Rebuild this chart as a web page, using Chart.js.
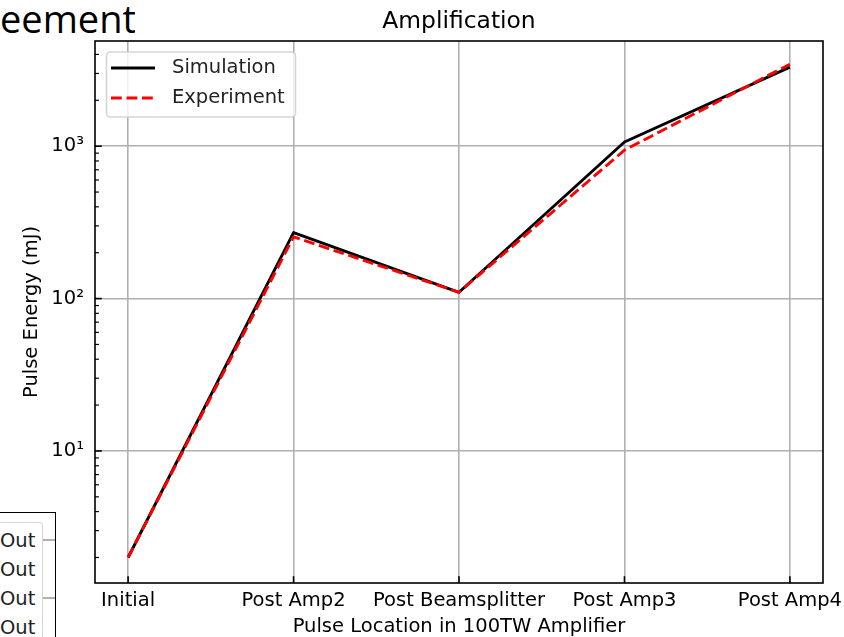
<!DOCTYPE html>
<html>
<head>
<meta charset="utf-8">
<script src="https://cdn.jsdelivr.net/npm/chart.js@4.4.1/dist/chart.umd.min.js"></script>
<style>
  html, body { margin: 0; padding: 0; background: #fff; }
  #wrap { position: relative; width: 844px; height: 637px; overflow: hidden; }
  #wrap canvas { position: absolute; left: 0; top: 0; }
  /* neighbouring panel pieces on the left edge */
  .nb-title { position: absolute; left: 0; top: -1px; width: 135px; text-align: right;
              font: 38px/38px "Open Sans"; color: #000; white-space: nowrap; overflow: hidden; }
  .nb-spine { position: absolute; left: -10px; top: 512px; width: 66px; height: 140px; box-sizing: border-box;
              border-top: 1.6px solid #000; border-right: 1.6px solid #000; }
  .nb-grid { position: absolute; left: 43px; width: 12px; height: 1.6px; background: #b0b0b0; }
  .nb-legend { position: absolute; left: -10px; top: 522px; width: 53px; height: 130px; box-sizing: border-box;
               border: 1.6px solid rgba(204,204,204,0.8); border-radius: 4px; background: rgba(255,255,255,0.8); }
  .nb-text { position: absolute; left: 0; top: 525.5px; width: 35px; text-align: right;
             font: 19.5px/29px "DejaVu Sans"; color: #222; white-space: pre; }
</style>
</head>
<body>
<div id="wrap">
  <div class="nb-title">eement</div>
  <div class="nb-spine"></div>
  <div class="nb-grid" style="top:539.2px"></div>
  <div class="nb-grid" style="top:597.2px"></div>
  <div class="nb-legend"></div>
  <div class="nb-text">Out
Out
Out
Out</div>
  <canvas id="myChart" width="844" height="637"></canvas>
</div>
<script>
const chartTitle = 'Amplification';
const categories = ['Initial', 'Post Amp2', 'Post Beamsplitter', 'Post Amp3', 'Post Amp4'];
const simulation = [2, 271, 110, 1065, 3300];
const experiment = [2, 254, 110, 942, 3450];
const yTickValues = [10, 100, 1000];
const yTickLabels = ['10¹', '10²', '10³'];

Chart.defaults.font.family = 'DejaVu Sans';
Chart.defaults.color = '#000';

const GRID = '#b0b0b0';

// title centred over the plot area, not the whole canvas
const plotTitle = {
  id: 'plotTitle',
  afterDraw(chart) {
    const { ctx, chartArea: a } = chart;
    ctx.save();
    ctx.font = '23.4px "DejaVu Sans"';
    ctx.fillStyle = '#000';
    ctx.textAlign = 'center';
    ctx.textBaseline = 'alphabetic';
    ctx.fillText(chartTitle, (a.left + a.right) / 2, 27.5);
    ctx.restore();
  }
};

// frame + inward tick marks
const axesFrame = {
  id: 'axesFrame',
  afterDraw(chart) {
    const { ctx, chartArea: a, scales } = chart;
    ctx.save();
    ctx.strokeStyle = '#000';
    ctx.lineCap = 'butt';
    scales.y.ticks.forEach(t => {
      const py = scales.y.getPixelForValue(t.value);
      const major = yTickValues.includes(t.value);
      ctx.lineWidth = major ? 1.6 : 1.2;
      ctx.beginPath();
      ctx.moveTo(a.left, py);
      ctx.lineTo(a.left + (major ? 6.8 : 3.9), py);
      ctx.stroke();
    });
    ctx.lineWidth = 1.6;
    scales.x.ticks.forEach(t => {
      const px = scales.x.getPixelForValue(t.value);
      ctx.beginPath();
      ctx.moveTo(px, a.bottom);
      ctx.lineTo(px, a.bottom - 6.8);
      ctx.stroke();
    });
    ctx.strokeRect(a.left, a.top, a.right - a.left, a.bottom - a.top);
    ctx.restore();
  }
};

// legend box in the upper-left corner of the plot
const boxLegend = {
  id: 'boxLegend',
  afterDraw(chart) {
    const { ctx, chartArea: a } = chart;
    const x = a.left + 11.5, y = a.top + 11, w = 189, h = 65;
    ctx.save();
    ctx.beginPath();
    ctx.roundRect(x, y, w, h, 4);
    ctx.fillStyle = 'rgba(255,255,255,0.8)';
    ctx.fill();
    ctx.lineWidth = 1.6;
    ctx.strokeStyle = 'rgba(204,204,204,0.8)';
    ctx.stroke();
    ctx.font = '19.5px "DejaVu Sans"';
    ctx.textBaseline = 'middle';
    chart.data.datasets.forEach((ds, i) => {
      const ly = y + 16 + i * 30;
      ctx.beginPath();
      ctx.strokeStyle = ds.borderColor;
      ctx.lineWidth = ds.borderWidth;
      ctx.setLineDash(ds.borderDash || []);
      ctx.moveTo(a.left + 16, ly);
      ctx.lineTo(a.left + 60, ly);
      ctx.stroke();
      ctx.setLineDash([]);
      ctx.fillStyle = '#222';
      ctx.fillText(ds.label, a.left + 77, ly);
    });
    ctx.restore();
  }
};

const toPoints = arr => arr.map((v, i) => ({ x: i, y: v }));

new Chart(document.getElementById('myChart'), {
  type: 'line',
  data: {
    datasets: [
      {
        label: 'Simulation',
        data: toPoints(simulation),
        borderColor: '#000000',
        borderWidth: 2.9,
        pointRadius: 0,
        tension: 0,
        borderJoinStyle: 'round',
        order: 1
      },
      {
        label: 'Experiment',
        data: toPoints(experiment),
        borderColor: '#ff0000',
        borderWidth: 2.9,
        borderDash: [10.8, 4.7],
        pointRadius: 0,
        tension: 0,
        borderJoinStyle: 'round',
        order: 0
      }
    ]
  },
  options: {
    responsive: false,
    animation: false,
    devicePixelRatio: 1,
    layout: { padding: { left: 0, right: 21, top: 41, bottom: 0 } },
    plugins: {
      legend: { display: false },
      title: { display: false },
      tooltip: { enabled: false }
    },
    scales: {
      x: {
        type: 'linear',
        min: -0.2,
        max: 4.2,
        afterBuildTicks: s => { s.ticks = categories.map((_, i) => ({ value: i })); },
        afterFit: s => { s.height = 54; s.paddingLeft = 0; s.paddingRight = 0; },
        ticks: {
          autoSkip: false,
          maxRotation: 0,
          minRotation: 0,
          padding: 6,
          color: '#000',
          font: { size: 19.5 },
          callback: v => categories[v] ?? ''
        },
        grid: { color: GRID, lineWidth: 1.6, drawTicks: false },
        border: { display: false },
        title: {
          display: true,
          text: 'Pulse Location in 100TW Amplifier',
          color: '#000',
          font: { size: 19.5 },
          padding: { top: 0, bottom: -2 }
        }
      },
      y: {
        type: 'logarithmic',
        min: 1.36,
        max: 4900,
        afterBuildTicks: s => {
          const list = [];
          for (let e = 0; e <= 3; e++) {
            for (let m = 1; m <= 9; m++) {
              const v = m * Math.pow(10, e);
              if (v >= s.min && v <= s.max) list.push({ value: v });
            }
          }
          s.ticks = list;
        },
        afterFit: s => { s.width = 95; s.paddingTop = 0; s.paddingBottom = 0; },
        ticks: {
          autoSkip: false,
          padding: 11,
          color: '#000',
          font: { size: 19.5 },
          callback: v => {
            const k = yTickValues.indexOf(v);
            return k >= 0 ? yTickLabels[k] : '';
          }
        },
        grid: {
          lineWidth: 1.6,
          drawTicks: false,
          color: c => (c.tick && yTickValues.includes(c.tick.value)) ? GRID : 'rgba(0,0,0,0)'
        },
        border: { display: false },
        title: {
          display: true,
          text: 'Pulse Energy (mJ)',
          color: '#000',
          font: { size: 19.5 },
          padding: { top: 20, bottom: 0 }
        }
      }
    }
  },
  plugins: [plotTitle, axesFrame, boxLegend]
});
</script>
</body>
</html>
